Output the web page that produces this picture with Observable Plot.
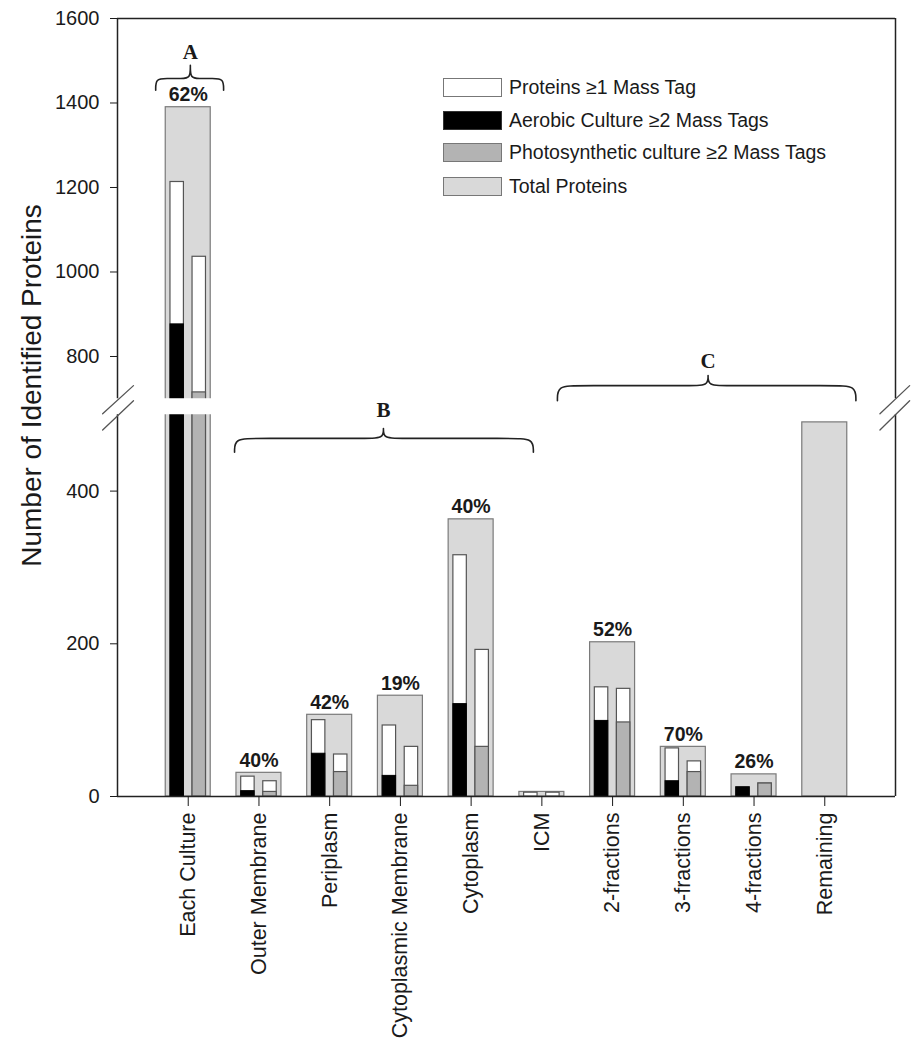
<!DOCTYPE html>
<html><head><meta charset="utf-8">
<script src="https://cdn.jsdelivr.net/npm/d3@7"></script>
<script src="https://cdn.jsdelivr.net/npm/@observablehq/plot@0.6"></script>
<style>
body{margin:0;background:#fff;font-family:"Liberation Sans",Arial,sans-serif;color:#1a1a1a;}
#wrap{position:relative;width:920px;height:1050px;}
.lg{position:absolute;left:443px;width:59px;height:19px;box-sizing:border-box;border:1.5px solid #777;}
.lt{position:absolute;left:509px;font-size:19.5px;line-height:19px;white-space:nowrap;color:#1a1a1a;}
</style></head>
<body><div id="wrap"></div>
<script>
// ---- data ----
const categories = ["Each Culture","Outer Membrane","Periplasm","Cytoplasmic Membrane","Cytoplasm","ICM","2-fractions","3-fractions","4-fractions","Remaining"];
const totalProteins   = [1390, 31, 107, 132, 363, 6, 202, 65, 29, 490];
const aerobicGe1      = [1213, 26, 100,  93, 316, 5, 143, 63, 12, 0];
const aerobicGe2      = [ 876,  7,  56,  27, 121, 0,  99, 20, 12, 0];
const photoGe1        = [1036, 20,  55,  65, 192, 5, 141, 46, 17, 0];
const photoGe2        = [ 715,  6,  32,  14,  65, 0,  97, 32, 17, 0];
const percentLabels   = ["62%","40%","42%","19%","40%","","52%","70%","26%",""];
const yTicks = [0, 200, 400, 800, 1000, 1200, 1400, 1600];
const yBreak = [500, 700];
const braceNames = ["A","B","C"];
const braceX0    = [0.54, 1.655, 6.22];
const braceX1    = [1.50, 5.88, 10.44];
const braceCx    = [1.03, 3.76, 8.35];
const braceTip   = [1430, 451, 675];
const braceBase  = [1458, 469, 731];
const bracePeak  = [1489, 482, 755];
const braceLabel = [1520, 550, 788];
const legendLabels = ["Proteins \u22651 Mass Tag","Aerobic Culture \u22652 Mass Tags","Photosynthetic culture \u22652 Mass Tags","Total Proteins"];
const legendFills  = ["#ffffff","#000000","#b3b3b3","#d9d9d9"];

// ---- broken-axis transform (value -> display units) ----
const LOW = 0.763, HIGH = 0.4222, GAP = 16;
function brk(v) {
  if (v <= yBreak[0]) return v * LOW;
  const a = yBreak[0] * LOW;
  if (v <= yBreak[1]) return a + (v - yBreak[0]) / (yBreak[1] - yBreak[0]) * GAP;
  return a + GAP + (v - yBreak[1]) * HIGH;
}
const tickLabel = new Map(yTicks.map(t => [brk(t), String(t)]));

// ---- derived tables ----
const rows = categories.map((c,k)=>({i:k+1, c, total:totalProteins[k], a1:aerobicGe1[k], a2:aerobicGe2[k], p1:photoGe1[k], p2:photoGe2[k], pct:percentLabels[k]}));
const braces = braceNames.map((n,k)=>({name:n, x0:braceX0[k], x1:braceX1[k], cx:braceCx[k], tip:braceTip[k], base:braceBase[k], peak:bracePeak[k], label:braceLabel[k]}));
const bracePts = braces.flatMap(b=>{
  const r = b.name==="A"?0.15:0.3, r2 = b.name==="A"?0.12:0.25;
  return [[b.x0,b.tip],[b.x0,b.base],[b.x0+r,b.base],[b.cx-r2,b.base],[b.cx,b.base],[b.cx,b.peak],[b.cx,b.peak],[b.cx,b.peak],[b.cx,b.base],[b.cx+r2,b.base],[b.x1-r,b.base],[b.x1,b.base],[b.x1,b.tip]].map(p=>({name:b.name,x:p[0],y:p[1]}));
});
const slashes = [
  {s:"L1",x:-0.21,y:512},{s:"L1",x:0.226,y:731},
  {s:"L2",x:-0.21,y:480},{s:"L2",x:0.226,y:675},
  {s:"R1",x:10.78,y:512},{s:"R1",x:11.2,y:731},
  {s:"R2",x:10.78,y:480},{s:"R2",x:11.2,y:675}
];
const frameSegs = [
  {x:0,y1:0,y2:yBreak[0]},{x:0,y1:yBreak[1],y2:1600},{x:11,y1:0,y2:yBreak[0]},{x:11,y1:yBreak[1],y2:1600}
];

const HW = 0.318, OFF = 0.156, IW = 0.095;
const chart = Plot.plot({
  width: 920, height: 1050,
  marginLeft: 117, marginRight: 25, marginTop: 18, marginBottom: 254,
  style: {fontFamily: '"Liberation Sans", Arial, sans-serif', fontSize: "20px", color: "#1a1a1a", background: "#fff"},
  x: {domain: [0, 11], label: null},
  y: {transform: brk, domain: [0, brk(1600)], label: null},
  marks: [
    Plot.rect(rows, {x1: d=>d.i-HW, x2: d=>d.i+HW, y1: 0, y2: "total", fill: "#d9d9d9", stroke: "#7a7a7a", strokeWidth: 1.2}),
    Plot.rect(rows.filter(d=>d.a1>0), {x1: d=>d.i-OFF-IW, x2: d=>d.i-OFF+IW, y1: 0, y2: "a1", fill: "#fff", stroke: "#555", strokeWidth: 1.2}),
    Plot.rect(rows.filter(d=>d.a2>0), {x1: d=>d.i-OFF-IW, x2: d=>d.i-OFF+IW, y1: 0, y2: "a2", fill: "#000", stroke: "#000", strokeWidth: 1}),
    Plot.rect(rows.filter(d=>d.p1>0), {x1: d=>d.i+OFF-IW, x2: d=>d.i+OFF+IW, y1: 0, y2: "p1", fill: "#fff", stroke: "#555", strokeWidth: 1.2}),
    Plot.rect(rows.filter(d=>d.p2>0), {x1: d=>d.i+OFF-IW, x2: d=>d.i+OFF+IW, y1: 0, y2: "p2", fill: "#b3b3b3", stroke: "#555", strokeWidth: 1.2}),
    // axis break gap
    Plot.rect([yBreak], {x1: 0, x2: 11, y1: d=>d[0], y2: d=>d[1], fill: "#fff"}),
    // frame
    Plot.ruleX(frameSegs, {x: "x", y1: "y1", y2: "y2", stroke: "#222", strokeWidth: 1.5}),
    Plot.ruleY([0, 1600], {x1: 0, x2: 11, stroke: "#222", strokeWidth: 1.5}),
    Plot.line(slashes, {x: "x", y: "y", z: "s", stroke: "#555", strokeWidth: 1.3}),
    Plot.axisY({ticks: yTicks.map(brk), tickFormat: d => tickLabel.get(d), tickSize: 7, tickPadding: 11, fontSize: 20, label: null}),
    Plot.axisX({ticks: d3.range(1, 11), tickFormat: i => categories[i-1], tickRotate: -90, tickSize: 10, tickPadding: 6, fontSize: 21.5, label: null}),
    Plot.text(["Number of Identified Proteins"], {frameAnchor: "left", textAnchor: "middle", rotate: -90, dx: -85, dy: -22, fontSize: 28}),
    Plot.text(rows.filter(d=>d.pct), {x: "i", y: "total", text: "pct", dy: -6, lineAnchor: "bottom", fontWeight: "bold", fontSize: 19.5}),
    Plot.line(bracePts, {x: "x", y: "y", z: "name", curve: "basis", stroke: "#222", strokeWidth: 1.6}),
    Plot.text(braces, {x: "cx", y: "label", text: "name", fontFamily: '"Liberation Serif", serif', fontWeight: "bold", fontSize: 21})
  ]
});
const wrap = document.getElementById("wrap");
wrap.appendChild(chart);
const tops = [78, 111, 143, 177];
legendLabels.forEach((t,k)=>{
  const b = document.createElement("div"); b.className="lg"; b.style.top=tops[k]+"px"; b.style.background=legendFills[k];
  if (k===1) b.style.borderColor="#333";
  const s = document.createElement("div"); s.className="lt"; s.style.top=tops[k]+"px"; s.textContent=t;
  wrap.appendChild(b); wrap.appendChild(s);
});
</script></body></html>
